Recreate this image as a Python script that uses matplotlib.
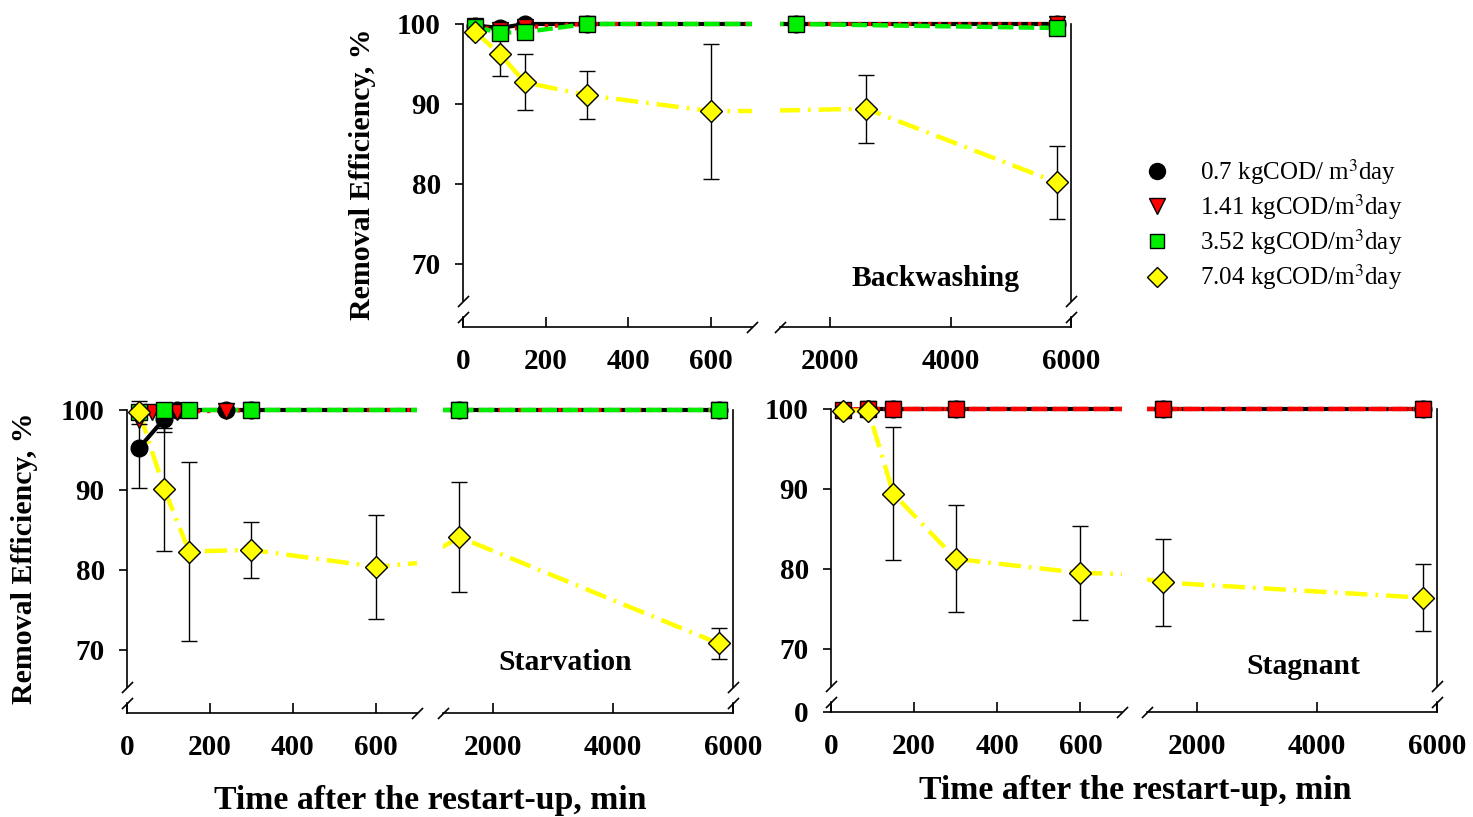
import matplotlib.pyplot as plt
from matplotlib.lines import Line2D
from matplotlib import transforms

plt.rcParams['font.family'] = ['Liberation Serif', 'DejaVu Serif']
plt.rcParams['mathtext.fontset'] = 'stix'

# ---------------- data ----------------
# Backwashing
bw_black_t = [30, 90, 150, 300, 1440, 5760]
bw_black_v = [99.8, 99.5, 100, 100, 100, 100]
bw_red_t = [30, 90, 150, 300, 1440, 5760]
bw_red_v = [99.7, 99.2, 99.6, 100, 100, 100]
bw_green_t = [30, 90, 150, 300, 1440, 5760]
bw_green_v = [99.6, 98.9, 99.0, 100, 100, 99.5]
bw_yellow_t = [30, 90, 150, 300, 600, 2600, 5760]
bw_yellow_v = [99.0, 96.2, 92.7, 91.1, 89.1, 89.4, 80.2]
bw_yellow_e = [0.5, 2.7, 3.5, 3.0, 8.45, 4.25, 4.6]

# Starvation
st_black_t = [30, 90, 120, 240, 300, 1440, 5760]
st_black_v = [95.3, 98.9, 100, 100, 100, 100, 100]
st_black_e = [5.1, 1.7, 0, 0, 0, 0, 0]
st_red_t = [30, 60, 120, 240, 300, 1440, 5760]
st_red_v = [98.8, 99.8, 99.8, 99.9, 100, 100, 100]
st_green_t = [30, 90, 150, 300, 1440, 5760]
st_green_v = [99.8, 100, 100, 100, 100, 100]
st_yellow_t = [30, 90, 150, 300, 600, 1440, 5760]
st_yellow_v = [99.7, 90.1, 82.3, 82.5, 80.4, 84.1, 70.8]
st_yellow_e = [1.4, 7.7, 11.2, 3.5, 6.5, 6.85, 1.9]

# Stagnant
sg_black_t = [30, 90, 150, 300, 1440, 5760]
sg_black_v = [99.8, 100, 100, 100, 100, 100]
sg_red_t = [30, 90, 150, 300, 1440, 5760]
sg_red_v = [99.8, 100, 100, 100, 100, 100]
sg_green_t = [30, 90, 150, 300, 1440, 5760]
sg_green_v = [99.9, 100, 100, 100, 100, 100]
sg_yellow_t = [30, 90, 150, 300, 600, 1440, 5760]
sg_yellow_v = [99.8, 99.8, 89.4, 81.25, 79.5, 78.3, 76.4]
sg_yellow_e = [0, 0, 8.35, 6.7, 5.9, 5.5, 4.2]

legend_labels = [r"0.7 kgCOD/ m$^3$day", r"1.41 kgCOD/m$^3$day",
                 r"3.52 kgCOD/m$^3$day", r"7.04 kgCOD/m$^3$day"]

# ---------------- styles ----------------
BLACK = dict(color='black', marker='o', mfc='black', ls='-', lw=3, ms=12, z=3)
RED = dict(color='red', marker='v', mfc='red', ls=(0, (0.8, 1.6)), lw=3, ms=12, z=4)
GREEN = dict(color='#00ee00', marker='s', mfc='#00ee00', ls=(0, (3.5, 1.2)), lw=3.2, ms=11, z=5)
GREEN_RED = dict(GREEN, color='red', mfc='red')
YELLOW = dict(color='yellow', marker='D', mfc='yellow', ls=(0, (5, 1.8, 0.6, 1.8)), lw=3.2, ms=11, z=6)

TICK_FS = 21
W, H = 1473, 817
YLIM = (62.1, 102)
XL = (0, 700)
XR = (1167, 6000)
BREAK_HI, BREAK_LO = 65.3, 63.3


def px_rect(x0, x1, ybot, ytop):
    return [x0 / W, 1 - ybot / H, (x1 - x0) / W, (ybot - ytop) / H]


def draw_series(ax, t, v, e, st, xlim):
    ax.plot(t, v, color=st['color'], ls=st['ls'], lw=st['lw'], zorder=st['z'])
    idx = [i for i, x in enumerate(t) if xlim[0] <= x <= xlim[1]]
    ti = [t[i] for i in idx]
    vi = [v[i] for i in idx]
    if e is not None:
        ei = [e[i] for i in idx]
        keep = [k for k, x in enumerate(ei) if x > 0]
        if keep:
            ax.errorbar([ti[k] for k in keep], [vi[k] for k in keep],
                        yerr=[ei[k] for k in keep], fmt='none', ecolor='black',
                        elinewidth=1, capsize=6, capthick=1, zorder=st['z'] + 5,
                        clip_on=False)
    ax.plot(ti, vi, ls='none', marker=st['marker'], mfc=st['mfc'], mec='black',
            mew=1, ms=st['ms'], zorder=st['z'] + 10, clip_on=False)


def brk(ax, x, y):
    tr = transforms.blended_transform_factory(ax.transAxes, ax.transData)
    ax.plot([x], [y], transform=tr, marker=[(-1, -1), (1, 1)], ms=8,
            mec='black', mew=1.2, ls='none', clip_on=False, zorder=30)


def style_axes(ax, side, xlim, xticks, zero_label=False):
    ax.set_xlim(*xlim)
    ax.set_ylim(*YLIM)
    ax.spines['top'].set_visible(False)
    ax.patch.set_alpha(0)
    for s in ax.spines.values():
        s.set_linewidth(1.2)
    ax.set_xticks(xticks)
    ax.set_xticklabels([str(x) for x in xticks], fontsize=TICK_FS, fontweight='bold')
    ax.tick_params(axis='x', direction='in', length=7, width=1.2, pad=15)
    tr = transforms.blended_transform_factory(ax.transAxes, ax.transData)
    if side == 'left':
        ax.spines['right'].set_visible(False)
        ax.spines['left'].set_bounds(BREAK_HI, 100)
        ax.plot([0, 0], [YLIM[0], BREAK_LO], transform=tr, color='black',
                lw=1.2, clip_on=False)
        yt = [70, 80, 90, 100]
        yl = ['70', '80', '90', '100']
        if zero_label:
            yt = [YLIM[0]] + yt
            yl = ['0'] + yl
        ax.set_yticks(yt)
        ax.set_yticklabels(yl, fontsize=TICK_FS, fontweight='bold')
        ax.tick_params(axis='y', direction='out', length=6, width=1.2, pad=10)
        brk(ax, 0, BREAK_HI)
        brk(ax, 0, BREAK_LO)
        brk(ax, 1, YLIM[0])
    else:
        ax.spines['left'].set_visible(False)
        ax.spines['right'].set_bounds(BREAK_HI, 100)
        ax.plot([1, 1], [YLIM[0], BREAK_LO], transform=tr, color='black',
                lw=1.2, clip_on=False)
        ax.set_yticks([])
        brk(ax, 1, BREAK_HI)
        brk(ax, 1, BREAK_LO)
        brk(ax, 0, YLIM[0])


def panel(fig, xl_px, xr_px, ybot, ytop, series, zero_label=False):
    axl = fig.add_axes(px_rect(xl_px[0], xl_px[1], ybot, ytop))
    axr = fig.add_axes(px_rect(xr_px[0], xr_px[1], ybot, ytop))
    for ax, side, xlim, xt in [(axl, 'left', XL, [0, 200, 400, 600]),
                               (axr, 'right', XR, [2000, 4000, 6000])]:
        for t, v, e, st in series:
            draw_series(ax, t, v, e, st, xlim)
        style_axes(ax, side, xlim, xt, zero_label=zero_label and side == 'left')
    return axl, axr


fig = plt.figure(figsize=(W / 100, H / 100), dpi=100)

panel(fig, (463, 752), (780, 1071), 327, 8, [
    (bw_black_t, bw_black_v, None, BLACK),
    (bw_red_t, bw_red_v, None, RED),
    (bw_green_t, bw_green_v, None, GREEN),
    (bw_yellow_t, bw_yellow_v, bw_yellow_e, YELLOW),
])
panel(fig, (127, 417), (443, 733), 713, 394, [
    (st_black_t, st_black_v, st_black_e, BLACK),
    (st_red_t, st_red_v, None, RED),
    (st_green_t, st_green_v, None, GREEN),
    (st_yellow_t, st_yellow_v, st_yellow_e, YELLOW),
])
panel(fig, (831, 1122), (1147, 1437), 712, 393, [
    (sg_black_t, sg_black_v, None, BLACK),
    (sg_red_t, sg_red_v, None, RED),
    (sg_green_t, sg_green_v, None, GREEN_RED),
    (sg_yellow_t, sg_yellow_v, sg_yellow_e, YELLOW),
], zero_label=True)

# panel captions and axis titles
fig.text(935 / W, 1 - 278 / H, 'Backwashing', fontsize=21.3, fontweight='bold',
         ha='center', va='center')
fig.text(565 / W, 1 - 662 / H, 'Starvation', fontsize=21.3, fontweight='bold',
         ha='center', va='center')
fig.text(1303 / W, 1 - 666 / H, 'Stagnant', fontsize=21.3, fontweight='bold',
         ha='center', va='center')
fig.text(362 / W, 1 - 174 / H, 'Removal Efficiency, %', fontsize=21.5,
         fontweight='bold', rotation=90, ha='center', va='center')
fig.text(25 / W, 1 - 558 / H, 'Removal Efficiency, %', fontsize=21.5,
         fontweight='bold', rotation=90, ha='center', va='center')
fig.text(430 / W, 1 - 800 / H, 'Time after the restart-up, min', fontsize=24.3,
         fontweight='bold', ha='center', va='center')
fig.text(1135 / W, 1 - 790 / H, 'Time after the restart-up, min', fontsize=24.3,
         fontweight='bold', ha='center', va='center')

handles = [Line2D([], [], ls='none', marker=s['marker'], mfc=s['mfc'], mec='black',
                  mew=1, ms=s['ms'] - 0.5) for s in (BLACK, RED, GREEN, YELLOW)]
fig.legend(handles, legend_labels, loc='upper left',
           bbox_to_anchor=(1142 / W, 1 - 157 / H), frameon=False,
           fontsize=18, handlelength=1.2, handletextpad=1.1,
           labelspacing=0.21, borderpad=0, borderaxespad=0)

fig.savefig('out.png', dpi=100)
